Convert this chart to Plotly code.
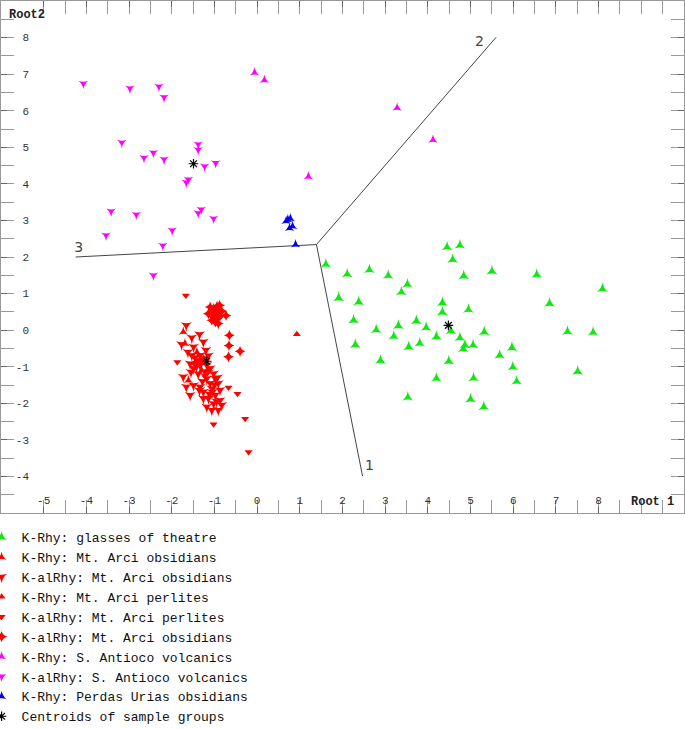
import plotly.graph_objects as go

# discriminant scores (Root 1, Root 2)
theatre_x = [4.45, 4.75, 4.58, 1.61, 2.11, 2.63, 3.07, 3.52, 3.38, 1.91, 2.38, 4.84, 5.50, 6.55, 8.09,
             4.34, 4.34, 4.95, 6.85, 2.26, 2.79, 3.31, 3.73, 3.96, 4.54, 3.20, 4.20, 4.75, 5.32, 7.27,
             7.87, 2.30, 3.55, 3.81, 4.87, 5.06, 4.83, 5.97, 2.89, 4.49, 5.68, 5.99, 6.08, 4.20, 5.07,
             7.51, 3.53, 5.00, 5.31]
theatre_y = [2.27, 2.32, 1.93, 1.80, 1.53, 1.65, 1.49, 1.25, 1.04, 0.88, 0.77, 1.48, 1.61, 1.52, 1.13,
             0.75, 0.49, 0.56, 0.73, 0.27, 0.01, 0.12, 0.25, 0.07, -0.02, -0.17, -0.18, -0.21, -0.05, -0.04,
             -0.06, -0.40, -0.46, -0.36, -0.41, -0.41, -0.51, -0.48, -0.83, -0.85, -0.69, -1.01, -1.40, -1.32, -1.31,
             -1.13, -1.84, -1.89, -2.10]

arci_obs_x = [-1.73, -1.69, -1.61, -1.41, -1.30]
arci_obs_y = [-0.05, -0.37, -1.37, -0.60, -1.10]

arci_alobs_x = [-1.66, -1.53, -1.35, -1.26, -1.77, -1.49, -1.53, -1.34, -1.26, -1.41, -1.57, -1.34,
                -1.18, -1.10, -1.49, -1.22, -1.02, -1.73, -1.18, -0.98, -0.91, -1.10, -1.49, -1.66,
                -1.34, -1.06, -0.87, -1.26, -1.57, -0.98, -1.14, -1.26, -0.87, -1.02, -0.83, -1.18,
                -1.06, -0.91, -1.45, -1.30, -1.38, -1.22, -1.14, -1.55, -1.62, -1.05, -0.95, -1.28,
                -1.42, -1.20, -1.00, -1.12, -1.35, -0.93]
arci_alobs_y = [0.13, -0.21, -0.12, -0.32, -0.39, -0.46, -0.69, -0.69, -0.78, -0.83, -0.92, -0.96,
                -0.96, -1.05, -1.05, -1.14, -1.19, -1.28, -1.33, -1.33, -1.46, -1.46, -1.51, -1.55,
                -1.55, -1.60, -1.64, -1.69, -1.78, -1.78, -1.87, -1.87, -1.92, -2.01, -2.05, -2.10,
                -2.19, -2.19, -0.75, -0.88, -1.20, -1.25, -0.70, -1.15, -0.60, -1.70, -1.95, -1.40,
                -1.00, -0.55, -1.50, -1.75, -1.65, -1.30]

arci_perl_x = [0.93]
arci_perl_y = [-0.11]

arci_alperl_x = [-1.67, -0.20, -0.28, -1.02, -0.46, -0.67, -1.87]
arci_alperl_y = [0.95, -3.33, -2.42, -2.57, -1.74, -1.57, -0.87]

arci_alobs2_x = [-1.10, -1.02, -0.94, -0.88, -1.06, -0.98, -0.91, -0.83, -1.02, -0.94, -0.87, -0.73,
                 -0.98, -0.91, -1.06, -0.94, -1.14, -0.65, -0.66, -0.40, -0.67, -1.45, -1.25, -1.15]
arci_alobs2_y = [0.63, 0.59, 0.65, 0.68, 0.49, 0.45, 0.49, 0.52, 0.36, 0.31, 0.38, 0.40,
                 0.22, 0.18, 0.27, 0.54, 0.45, -0.14, -0.42, -0.58, -0.73, -0.90, -0.80, -1.10]

antioco_x = [-0.06, 0.17, 3.28, 4.12, 1.20]
antioco_y = [7.04, 6.84, 6.08, 5.20, 4.20]

antioco_al_x = [-4.07, -2.98, -2.30, -2.18, -3.17, -2.65, -2.43, -2.18, -1.38, -1.38, -1.23, -0.97,
                -1.61, -1.66, -3.42, -2.83, -1.38, -1.31, -1.02, -1.99, -3.54, -2.21, -2.43]
antioco_al_y = [6.74, 6.61, 6.66, 6.37, 5.13, 4.71, 4.85, 4.67, 5.08, 4.93, 4.48, 4.57,
                4.12, 4.04, 3.25, 3.16, 3.20, 3.30, 3.05, 2.73, 2.59, 2.31, 1.50]

urias_x = [0.72, 0.78, 0.68, 0.76, 0.83, 0.90]
urias_y = [3.02, 3.05, 2.98, 2.79, 2.84, 2.34]

centroid_x = [4.48, -1.49, -1.18]
centroid_y = [0.13, 4.55, -0.85]

# territorial map root axes: centre, end points and their labels
root_centre = (1.39, 2.34)
root_ends_x = [2.47, 5.60, -4.25]
root_ends_y = [-3.99, 8.01, 2.00]
root_names = ["1", "2", "3"]
root_label_x = [2.63, 5.21, -4.18]
root_label_y = [-3.73, 7.87, 2.24]

x_ticks = list(range(-5, 9))
y_ticks = list(range(-4, 9))

RED = "#ff0000"
MAG = "#ff00ff"

series = [
    ("K-Rhy: glasses of theatre", theatre_x, theatre_y, "star-triangle-up", "#11e811", 8),
    ("K-Rhy: Mt. Arci obsidians", arci_obs_x, arci_obs_y, "star-triangle-up", RED, 7),
    ("K-alRhy: Mt. Arci obsidians", arci_alobs_x, arci_alobs_y, "star-triangle-down", RED, 8),
    ("K-Rhy: Mt. Arci perlites", arci_perl_x, arci_perl_y, "triangle-up", RED, 7),
    ("K-alRhy: Mt. Arci perlites", arci_alperl_x, arci_alperl_y, "triangle-down", RED, 7),
    ("K-alRhy: Mt. Arci obsidians", arci_alobs2_x, arci_alobs2_y, "star-diamond", RED, 8),
    ("K-Rhy: S. Antioco volcanics", antioco_x, antioco_y, "star-triangle-up", MAG, 7),
    ("K-alRhy: S. Antioco volcanics", antioco_al_x, antioco_al_y, "star-triangle-down", MAG, 7),
    ("K-Rhy: Perdas Urias obsidians", urias_x, urias_y, "star-triangle-up", "#0000ee", 7),
]

fig = go.Figure()

# root axis lines
for ex, ey in zip(root_ends_x, root_ends_y):
    fig.add_trace(go.Scatter(x=[root_centre[0], ex], y=[root_centre[1], ey], mode="lines",
                             line=dict(color="#444", width=1), hoverinfo="skip",
                             showlegend=False))
fig.add_trace(go.Scatter(x=root_label_x, y=root_label_y, mode="text", text=root_names,
                         textfont=dict(family="DejaVu Sans", size=14, color="#444"),
                         hoverinfo="skip", showlegend=False))

for name, xs, ys, sym, col, sz in series:
    fig.add_trace(go.Scatter(x=xs, y=ys, mode="markers", name=name,
                             marker=dict(symbol=sym, size=sz, color=col,
                                         line=dict(width=0))))

fig.add_trace(go.Scatter(x=centroid_x, y=centroid_y, mode="markers",
                         name="Centroids of sample groups",
                         marker=dict(symbol="asterisk-open", size=8, color="#000",
                                     line=dict(color="#000", width=1.2))))

axis_common = dict(showline=True, linecolor="#999", linewidth=1, mirror="allticks",
                   ticks="inside", ticklen=6, tickcolor="#666", tickwidth=1,
                   ticklabelposition="inside", showgrid=False, zeroline=False,
                   tickfont=dict(family="Liberation Mono", size=11, color="#333"),
                   minor=dict(ticks="inside", ticklen=13, tickcolor="#999", dtick=0.5,
                              tick0=0.5, showgrid=False))

fig.update_layout(
    width=685, height=729,
    margin=dict(l=1, r=1, t=1, b=216, autoexpand=False),
    plot_bgcolor="white", paper_bgcolor="white",
    xaxis=dict(range=[-6, 10], tickmode="array", tickvals=x_ticks,
               ticktext=[str(v) for v in x_ticks], **axis_common),
    yaxis=dict(range=[-5, 9], tickmode="array", tickvals=y_ticks,
               ticktext=[("\u00a0" + str(v)) if v >= 0 else str(v) for v in y_ticks],
               ticklabelstandoff=8, **axis_common),
    showlegend=True,
    legend=dict(x=-0.0284, y=-0.018, xanchor="left", yanchor="top",
                font=dict(family="Liberation Mono", size=13, color="#111"),
                bgcolor="rgba(0,0,0,0)", borderwidth=0),
    annotations=[
        dict(text="<b>Root2</b>", xref="paper", yref="paper", x=0.009, y=0.973,
             xanchor="left", yanchor="middle", showarrow=False,
             font=dict(family="Liberation Mono", size=12, color="#222")),
        dict(text="<b>Root 1</b>", xref="paper", yref="paper", x=0.988, y=0.022,
             xanchor="right", yanchor="middle", showarrow=False,
             font=dict(family="Liberation Mono", size=12, color="#222")),
    ],
)

# drop the page's default body margin so the figure sits at the window corner
fig.write_html("out.html", config={"displayModeBar": False},
               post_script="document.body.style.margin='0';")
